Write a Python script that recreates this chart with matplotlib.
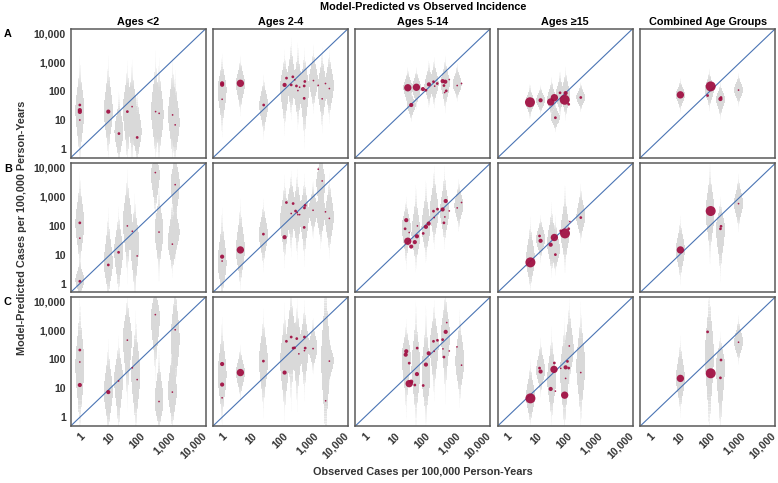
import numpy as np
import matplotlib
matplotlib.use("Agg")
import matplotlib.pyplot as plt
from matplotlib.collections import PolyCollection

plt.rcParams['font.family'] = ['Liberation Sans', 'DejaVu Sans']

# Column / row headings
col_titles = ["Ages <2", "Ages 2-4", "Ages 5-14", "Ages \u226515", "Combined Age Groups"]
row_letters = ["A", "B", "C"]
tick_vals = [1, 10, 100, 1000, 10000]
tick_labels = ["1", "10", "100", "1,000", "10,000"]

# Points: (observed, predicted, weight class 1-5)
# Violins: (observed, median predicted, low, high)
A1_points = [(1, 33, 2), (1, 22, 3), (1, 19, 3), (1, 10, 1), (8.7, 19.5, 3), (19.5, 3.4, 2),
             (37, 19.5, 2), (53, 29, 1), (78, 2.5, 2), (316, 19.5, 1), (414, 17, 1),
             (1150, 15, 1), (1400, 6.8, 1)]
A1_violins = [(1, 22, 0.5, 600), (8.7, 20, 0.8, 600), (19.5, 4, 0.4, 45), (37, 25, 0.5, 470),
              (53, 25, 0.5, 500), (78, 4, 0.4, 50), (316, 20, 0.6, 800), (414, 15, 0.6, 500),
              (1150, 15, 0.6, 500), (1400, 8, 0.5, 200)]

A2_points = [(1, 185, 3), (1, 165, 3), (1, 52, 1), (4, 185, 4), (23.5, 33, 2), (115, 163, 3),
             (133, 280, 2), (190, 163, 2), (215, 310, 2), (250, 245, 1), (283, 150, 2),
             (316, 104, 1), (360, 136, 1), (510, 150, 2), (535, 214, 2), (510, 56, 2),
             (1030, 230, 1), (1480, 157, 1), (2000, 54, 1), (2570, 182, 1), (3450, 122, 1)]
A2_violins = [(1, 110, 6, 1000), (4, 180, 25, 1000), (23.5, 33, 4, 210), (115, 140, 7, 1350),
              (190, 200, 20, 3000), (316, 130, 10, 2000), (520, 130, 3, 1500), (1030, 220, 30, 2000),
              (2000, 120, 8, 1500), (3450, 150, 15, 1500)]

A3_points = [(27, 130, 4), (52, 135, 4), (85, 117, 3), (107, 107, 2), (134, 170, 3), (190, 210, 2),
             (208, 148, 1), (253, 182, 2), (380, 220, 3), (465, 210, 3), (420, 155, 2),
             (630, 250, 1), (500, 102, 2), (445, 89, 1), (1150, 155, 1), (1600, 182, 1), (35, 33, 3)]
A3_violins = [(27, 130, 35, 450), (52, 130, 35, 450), (134, 150, 40, 700), (200, 180, 40, 900),
              (465, 180, 30, 1000), (1150, 170, 60, 600), (35, 33, 12, 80)]

A4_points = [(5.8, 41, 5), (13, 48, 3), (28, 42, 4), (37, 59, 4), (57, 87, 2), (87, 85, 3),
             (81, 50, 5), (110, 35, 2), (275, 60, 2), (40, 12, 2)]
A4_violins = [(5.8, 41, 15, 120), (13, 48, 20, 120), (30, 50, 15, 200), (57, 70, 20, 300),
              (87, 70, 15, 400), (275, 60, 25, 150), (40, 12, 5, 30)]

A5_points = [(10.5, 74, 4), (105, 145, 5), (83, 70, 2), (220, 53, 3), (230, 60, 2), (870, 108, 1)]
A5_violins = [(10.5, 74, 25, 200), (95, 110, 30, 400), (220, 53, 15, 150), (870, 108, 40, 300)]

B1_points = [(1, 125, 2), (1, 37, 1), (1, 1.2, 2), (8.7, 4.4, 2), (19, 12, 2), (37, 98, 1),
             (54, 64, 1), (78, 9, 1), (310, 6800, 1), (410, 60, 1), (1400, 2600, 1), (1130, 23, 1)]
B1_violins = [(1, 118, 5, 2800), (1, 1.3, 0.4, 5), (8.7, 5, 0.4, 150), (19, 14, 0.6, 200),
              (37, 135, 3, 3600), (65, 25, 0.5, 500), (310, 6300, 340, 30000), (410, 70, 3, 1000),
              (1400, 3000, 100, 30000), (1400, 60, 10, 400), (1130, 25, 3, 500)]

B2_points = [(1, 8.5, 3), (1, 6, 1), (4, 14.5, 4), (23, 51, 2), (115, 40, 3), (132, 630, 2),
             (220, 580, 2), (190, 263, 1), (265, 320, 2), (300, 280, 1), (316, 240, 1), (360, 240, 1),
             (520, 410, 2), (550, 500, 2), (510, 87, 2), (1000, 340, 1), (1480, 8900, 1),
             (2000, 3500, 1), (2570, 300, 1), (3450, 178, 1)]
B2_violins = [(1, 5, 0.4, 150), (4, 14.5, 1, 340), (23, 51, 5, 450), (115, 150, 8, 2500),
              (190, 400, 20, 4000), (300, 250, 15, 4000), (520, 250, 10, 3000), (1000, 340, 60, 2000),
              (1800, 3000, 200, 30000), (1800, 300, 30, 3000), (3450, 200, 15, 3000)]

B3_points = [(24, 155, 3), (22, 78, 2), (30, 58, 1), (27, 29, 4), (35, 19, 3), (46, 27, 3), (54, 43, 3),
             (56, 98, 1), (87, 54, 2), (107, 91, 3), (132, 118, 3), (190, 316, 2), (257, 372, 2),
             (200, 190, 1), (380, 363, 3), (480, 710, 3), (450, 200, 1), (420, 125, 2),
             (630, 323, 1), (1150, 410, 1), (1600, 630, 1)]
B3_violins = [(24, 90, 6.5, 570), (50, 50, 5, 1000), (107, 90, 10, 1500), (200, 300, 30, 5000),
              (440, 300, 30, 5000), (1300, 500, 100, 2500)]

B4_points = [(6, 5.4, 5), (12, 44, 2), (13, 30, 3), (28, 22, 3), (37, 39, 4), (40, 10, 2),
             (60, 66, 2), (83, 54, 5), (110, 78, 2), (120, 138, 1), (275, 190, 2)]
B4_violins = [(6, 6.5, 0.8, 90), (13, 35, 8, 150), (30, 25, 3, 300), (40, 15, 3, 120),
              (83, 60, 5, 1000), (275, 190, 40, 1500)]

B5_points = [(10.5, 14.5, 4), (105, 320, 5), (220, 78, 2), (230, 95, 2), (870, 575, 1)]
B5_violins = [(10.5, 14.5, 1.7, 118), (100, 300, 12, 6000), (220, 80, 3, 570), (870, 575, 100, 3600)]

C1_points = [(1, 210, 2), (1, 81, 1), (1, 13, 3), (8.7, 7.4, 3), (19, 18, 1), (37, 460, 1),
             (54, 51, 1), (78, 20, 1), (310, 3500, 1), (410, 3.5, 1), (1400, 1050, 1), (1130, 7.4, 1)]
C1_violins = [(1, 60, 0.5, 5000), (8.7, 7.7, 0.4, 190), (19, 22, 0.5, 300), (37, 550, 6, 10000),
              (70, 30, 0.5, 1500), (310, 3000, 50, 30000), (410, 3.5, 0.4, 85),
              (1400, 500, 10, 30000), (1130, 8, 0.5, 200)]

C2_points = [(1, 69, 3), (1, 13.5, 3), (1, 4.7, 1), (4, 35, 4), (23, 87, 2), (115, 35, 3),
             (132, 420, 2), (190, 590, 2), (290, 520, 2), (220, 245, 2), (245, 250, 2), (340, 155, 1),
             (520, 590, 2), (550, 245, 2), (520, 200, 1), (1000, 235, 1), (2600, 3.7, 1), (3450, 87, 1)]
C2_violins = [(1, 30, 1, 1000), (4, 35, 6, 190), (23, 87, 2.7, 2100), (115, 80, 2, 3000),
              (190, 500, 6, 15000), (300, 250, 5, 5000), (520, 300, 10, 5000), (1000, 250, 50, 1500),
              (2600, 100, 0.2, 40000), (3450, 90, 20, 400)]

C3_points = [(24, 190, 3), (23, 145, 3), (30, 74, 2), (55, 245, 2), (30, 14.5, 4), (35, 17, 3),
             (46, 13, 2), (54, 31, 3), (87, 12.5, 2), (107, 66, 3), (132, 162, 3), (190, 420, 2),
             (257, 455, 2), (200, 190, 1), (380, 480, 2), (480, 890, 3), (520, 1860, 1), (390, 230, 1),
             (420, 120, 2), (630, 195, 1), (1130, 270, 1), (1600, 63, 1)]
C3_violins = [(24, 125, 2.7, 1230), (50, 50, 1, 3000), (107, 30, 1, 2000), (200, 300, 10, 5000),
              (470, 730, 10, 15000), (1400, 85, 5, 2000)]

C4_points = [(6, 4.5, 5), (12, 50, 2), (13, 38, 3), (28, 9.5, 3), (40, 8, 1), (36, 45, 4), (37, 75, 2),
             (60, 49, 1), (87, 53, 3), (110, 50, 2), (100, 85, 2), (87, 22, 1), (115, 290, 1),
             (81, 5.8, 4), (275, 35, 1)]
C4_violins = [(6, 5, 0.7, 50), (13, 40, 8, 300), (30, 20, 1, 500), (80, 38, 0.5, 1000),
              (115, 200, 20, 5000), (275, 60, 1, 3000)]

C5_points = [(10.5, 22, 4), (83, 890, 2), (105, 33, 5), (230, 95, 2), (220, 23, 2), (870, 390, 1)]
C5_violins = [(10.5, 22, 2, 300), (95, 150, 0.5, 15000), (220, 66, 0.5, 500), (870, 390, 100, 2000)]

panels = [[(A1_points, A1_violins), (A2_points, A2_violins), (A3_points, A3_violins),
           (A4_points, A4_violins), (A5_points, A5_violins)],
          [(B1_points, B1_violins), (B2_points, B2_violins), (B3_points, B3_violins),
           (B4_points, B4_violins), (B5_points, B5_violins)],
          [(C1_points, C1_violins), (C2_points, C2_violins), (C3_points, C3_violins),
           (C4_points, C4_violins), (C5_points, C5_violins)]]

size_map = {1: 1.5, 2: 4, 3: 9, 4: 28, 5: 52}
lo_lim, hi_lim = np.log10(0.5), np.log10(14000)
violin_gray = '#d9d9d9'
dot_color = '#a00d40'
line_color = '#4a74b4'


def violin_polys(x, mid, lo, hi, half_w=0.13):
    # gaussian-ish shape in log space; solid body, tails fade out
    cx, cy = np.log10(x), np.log10(mid)
    sd_dn = (cy - np.log10(lo)) / 2.3
    sd_up = (np.log10(hi) - cy) / 2.3
    ys = np.linspace(cy - 3 * sd_dn, cy + 3 * sd_up, 120)
    z = np.where(ys < cy, (ys - cy) / sd_dn, (ys - cy) / sd_up)
    dens = np.exp(-z ** 2 / 2)
    hw = half_w * dens
    alpha = np.minimum(1.0, 1.9 * dens)
    body = alpha >= 1.0
    polys, alphas = [], []
    # one solid polygon for the body
    yb, wb = ys[body], hw[body]
    polys.append(list(zip(cx - wb, yb)) + list(zip(cx + wb[::-1], yb[::-1])))
    alphas.append(1.0)
    # faded slices for tails
    for i in range(len(ys) - 1):
        if body[i] and body[i + 1]:
            continue
        polys.append([(cx - hw[i], ys[i]), (cx + hw[i], ys[i]),
                      (cx + hw[i + 1], ys[i + 1]), (cx - hw[i + 1], ys[i + 1])])
        alphas.append(0.5 * (alpha[i] + alpha[i + 1]))
    return polys, alphas


fig = plt.figure(figsize=(7.78, 4.83), dpi=100)

lefts = [70.7, 213.0, 355.3, 497.7, 640.3]
bottoms = [157.7, 292.3, 426.0]
pw, ph = 134.8, 128.8

for r in range(3):
    for c in range(5):
        ax = fig.add_axes([lefts[c] / 778, 1 - bottoms[r] / 483, pw / 778, ph / 483])
        pts, vios = panels[r][c]

        all_polys, all_cols = [], []
        for v in vios:
            p, a = violin_polys(*v)
            all_polys += p
            all_cols += [matplotlib.colors.to_rgba(violin_gray, al) for al in a]
        pc = PolyCollection(all_polys, facecolors=all_cols, edgecolors='none',
                            antialiased=False, zorder=1)
        ax.add_collection(pc)

        ax.plot([lo_lim, hi_lim], [lo_lim, hi_lim], color=line_color, lw=0.8, zorder=2)

        px = np.log10([p[0] for p in pts])
        py = np.log10([p[1] for p in pts])
        ps = [size_map[p[2]] for p in pts]
        ax.scatter(px, py, s=ps, color=dot_color, linewidths=0, alpha=0.92, zorder=3)

        ax.set_xlim(lo_lim, hi_lim)
        ax.set_ylim(lo_lim, hi_lim)
        ax.set_xticks(np.log10(tick_vals))
        ax.set_yticks(np.log10(tick_vals))
        ax.tick_params(length=0, pad=3.5, labelsize=7.6, labelcolor='#333333')
        if c == 0:
            ax.set_yticklabels(tick_labels, fontweight='bold')
        else:
            ax.set_yticklabels([])
        if r == 2:
            ax.set_xticklabels(tick_labels, rotation=45, ha='right', va='top',
                               rotation_mode='anchor', fontweight='bold')
        else:
            ax.set_xticklabels([])
        for s in ax.spines.values():
            s.set_color('#5a5a5a')
            s.set_linewidth(1.1)
        if r == 0:
            ax.set_title(col_titles[c], fontsize=7.8, fontweight='bold', pad=3)
        if c == 0:
            fig.text(4 / 778, 1 - (bottoms[r] - ph + 5) / 483, row_letters[r],
                     fontsize=7.8, fontweight='bold', va='center', ha='left')

fig.text(423 / 778, 1 - 7 / 483, "Model-Predicted vs Observed Incidence",
         ha='center', va='center', fontsize=7.8, fontweight='bold')
fig.text(22 / 778, 1 - 228 / 483, "Model-Predicted Cases per 100,000 Person-Years",
         rotation=90, ha='center', va='center', fontsize=7.8, fontweight='bold', color='#333333')
fig.text(423 / 778, 1 - 472 / 483, "Observed Cases per 100,000 Person-Years",
         ha='center', va='center', fontsize=7.8, fontweight='bold', color='#333333')

fig.savefig("out.png", dpi=100)
